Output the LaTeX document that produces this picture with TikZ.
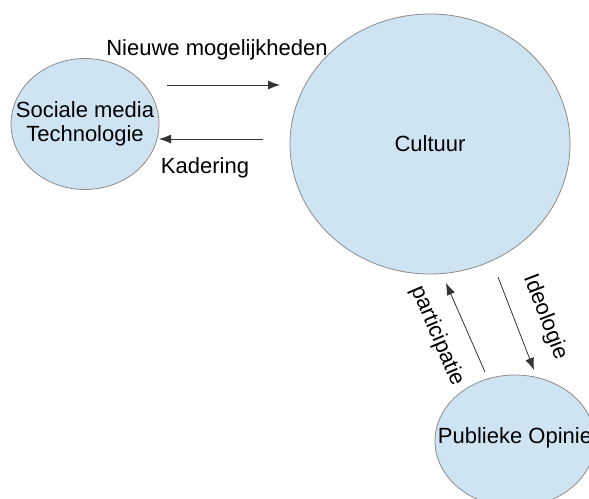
\documentclass[tikz,border=0pt]{standalone}
\usepackage{fontspec}
\setmainfont{Liberation Sans}
\usetikzlibrary{shapes.geometric, arrows.meta}

\definecolor{bubblefill}{HTML}{CFE4F2}
\definecolor{bubbleline}{HTML}{8C8C8C}

\tikzset{
  bubble/.style={ellipse, draw=bubbleline, fill=bubblefill, line width=0.8pt, inner sep=0pt},
  pijl/.style={draw=black!80, line width=0.8pt, -{Latex[length=12pt,width=9pt]}},
  tekst/.style={inner sep=0pt, align=center, font=\fontsize{22}{24}\selectfont}
}

\begin{document}
\begin{tikzpicture}[x=1pt, y=-1pt]
\useasboundingbox (0,0) rectangle (589,498);
\clip (0,0) rectangle (589,498);
% bubbels
\node[bubble, minimum width=148pt, minimum height=131pt] (socmedia) at (85,124) {};
\node[bubble, minimum width=280pt, minimum height=260pt] (cultuur) at (430,144) {};
\node[bubble, minimum width=160pt, minimum height=132pt] (opinie) at (515,441) {};
\node[tekst] (socmediatekst) at (socmedia) {Sociale media\\Technologie};
\node[tekst] (cultuurtekst) at (cultuur) {Cultuur};
\node[tekst] (opinietekst) at ([yshift=3pt]opinie) {Publieke Opinie};
% pijlpunten
\coordinate (n1) at (167,85);
\coordinate (n2) at (280,85);
\coordinate (k1) at (263,139);
\coordinate (k2) at (159,139);
\coordinate (p1) at (485,372);
\coordinate (p2) at (446,283);
\coordinate (i1) at (498,277);
\coordinate (i2) at (534,370);
\draw[pijl] (n1) -- (n2);
\draw[pijl] (k1) -- (k2);
\draw[pijl] (p1) -- (p2);
\draw[pijl] (i1) -- (i2);
% labels
\node[tekst] (nieuw) at (217,50) {Nieuwe mogelijkheden};
\node[tekst] (kadering) at (205,168) {Kadering};
\node[tekst, rotate=-67] (participatie) at (437,336) {participatie};
\node[tekst, rotate=-69] (ideologie) at (545,317) {Ideologie};
\end{tikzpicture}
\end{document}
